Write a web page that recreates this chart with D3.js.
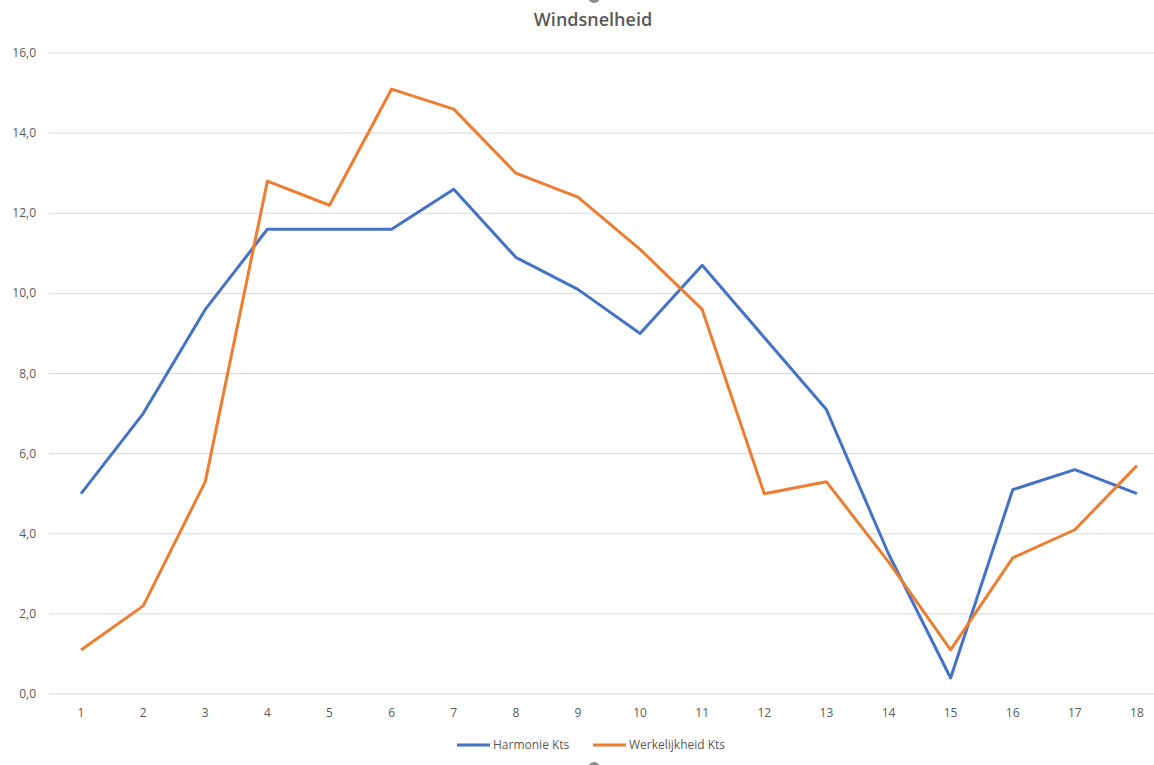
<!DOCTYPE html>
<html>
<head>
<meta charset="utf-8">
<script src="https://cdn.jsdelivr.net/npm/d3@7"></script>
<style>
  body { margin: 0; background: #fff; }
  svg { display: block; font-family: "Open Sans", sans-serif; }
</style>
</head>
<body>
<div id="chart"></div>
<script>
  var categories = [1, 2, 3, 4, 5, 6, 7, 8, 9, 10, 11, 12, 13, 14, 15, 16, 17, 18];
  var harmonie = [5.0, 7.0, 9.6, 11.6, 11.6, 11.6, 12.6, 10.9, 10.1, 9.0, 10.7, 8.9, 7.1, 3.5, 0.4, 5.1, 5.6, 5.0];
  var werkelijkheid = [1.1, 2.2, 5.3, 12.8, 12.2, 15.1, 14.6, 13.0, 12.4, 11.1, 9.6, 5.0, 5.3, 3.3, 1.1, 3.4, 4.1, 5.7];
  var yTicks = [0, 2, 4, 6, 8, 10, 12, 14, 16];

  var series = [
    { name: 'Harmonie Kts', values: harmonie, color: '#4472C4' },
    { name: 'Werkelijkheid Kts', values: werkelijkheid, color: '#ED7D31' }
  ];

  var width = 1154, height = 765;
  var svg = d3.select('#chart').append('svg')
    .attr('width', width)
    .attr('height', height);

  var x = d3.scaleBand().domain(categories).range([50, 1168]);
  var y = d3.scaleLinear().domain([0, 16]).range([694, 53]);

  // gridlines
  svg.append('g')
    .selectAll('line')
    .data(yTicks)
    .enter().append('line')
    .attr('x1', 49).attr('x2', 1168)
    .attr('y1', function (d) { return y(d); })
    .attr('y2', function (d) { return y(d); })
    .attr('stroke', '#d9d9d9')
    .attr('stroke-width', 1);

  // y labels
  svg.append('g')
    .selectAll('text')
    .data(yTicks)
    .enter().append('text')
    .attr('x', 36)
    .attr('y', function (d) { return y(d) + 4; })
    .attr('text-anchor', 'end')
    .attr('font-size', '12px')
    .attr('fill', '#595959')
    .text(function (d) { return d.toFixed(1).replace('.', ','); });

  // x labels
  svg.append('g')
    .selectAll('text')
    .data(categories)
    .enter().append('text')
    .attr('x', function (d) { return x(d) + x.bandwidth() / 2; })
    .attr('y', 717)
    .attr('text-anchor', 'middle')
    .attr('font-size', '12px')
    .attr('fill', '#595959')
    .text(function (d) { return d; });

  var line = d3.line()
    .x(function (d, i) { return x(categories[i]) + x.bandwidth() / 2; })
    .y(function (d) { return y(d); });

  series.forEach(function (s) {
    svg.append('path')
      .datum(s.values)
      .attr('d', line)
      .attr('fill', 'none')
      .attr('stroke', s.color)
      .attr('stroke-width', 3)
      .attr('stroke-linejoin', 'round');
  });

  // title
  svg.append('text')
    .attr('x', 593)
    .attr('y', 26)
    .attr('text-anchor', 'middle')
    .attr('font-size', '18px')
    .attr('font-weight', 600)
    .attr('fill', '#595959')
    .text('Windsnelheid');

  // legend
  var legendPos = [457, 593];
  var legend = svg.append('g')
    .selectAll('g')
    .data(series)
    .enter().append('g')
    .attr('transform', function (d, i) { return 'translate(' + legendPos[i] + ',745)'; });
  legend.append('line')
    .attr('x1', 0).attr('x2', 33)
    .attr('stroke', function (d) { return d.color; })
    .attr('stroke-width', 3);
  legend.append('text')
    .attr('x', 36)
    .attr('y', 4)
    .attr('font-size', '12px')
    .attr('fill', '#595959')
    .text(function (d) { return d.name; });

  // selection handles (partially visible)
  svg.append('g')
    .selectAll('circle')
    .data([-3, 768])
    .enter().append('circle')
    .attr('cx', 594)
    .attr('cy', function (d) { return d; })
    .attr('r', 6)
    .attr('fill', '#8c8c8c');
</script>
</body>
</html>
